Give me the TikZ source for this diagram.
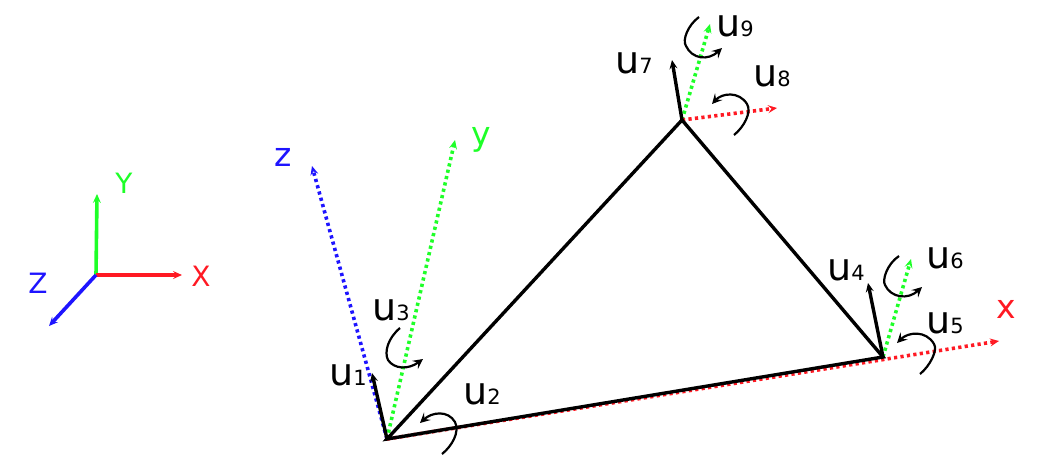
\documentclass[tikz,border=0pt]{standalone}
\usepackage{fontspec}
\setmainfont{DejaVu Sans}
\usetikzlibrary{arrows.meta}
\definecolor{cred}{RGB}{255,25,35}
\definecolor{cgreen}{RGB}{30,255,40}
\definecolor{cblue}{RGB}{30,20,255}
\newcommand{\ulab}[1]{{\fontsize{38}{38}\selectfont u}{\fontsize{21}{21}\selectfont #1}}
\tikzset{
  x=1pt,y=-1pt,
  tip/.style={-{Stealth[length=9pt,width=8pt,inset=3.5pt]}},
  solidax/.style={tip,line width=3.6pt},
  dotax/.style={tip,line width=3.6pt,dash pattern=on 3.2pt off 3.3pt},
  member/.style={line width=3.4pt,line cap=round},
  rot/.style={-{Stealth[length=10pt,width=10pt,inset=4pt]},line width=2.2pt,black},
  ulabel/.style={inner sep=0pt,anchor=base west},
  axlabel/.style={inner sep=0pt,anchor=base,font=\fontsize{28}{28}\selectfont},
  loclabel/.style={inner sep=0pt,anchor=base,font=\fontsize{33}{33}\selectfont},
}
\begin{document}
\begin{tikzpicture}
\useasboundingbox (0,0) rectangle (1049,467);
% nodes of the triangle
\coordinate (A) at (387,439);
\coordinate (B) at (883,357);
\coordinate (C) at (682,120);
\coordinate (O) at (96,275);
% tips
\coordinate (GX) at (182,275);
\coordinate (GY) at (97,194);
\coordinate (GZ) at (49,326);
\coordinate (Az) at (312,166);
\coordinate (Ay) at (455,140);
\coordinate (Ax) at (999,341);
\coordinate (U1) at (372,373);
\coordinate (U4) at (868,283);
\coordinate (U6t) at (911,259);
\coordinate (U7) at (672,60);
\coordinate (U9t) at (710,24);
\coordinate (U8t) at (777,108);
% global axes
\draw[solidax,cgreen] (O) -- (GY);
\draw[solidax,cred] (O) -- (GX);
\draw[solidax,cblue] (O) -- (GZ);
\node[axlabel,text=cgreen] (ly) at (124,193) {Y};
\node[axlabel,text=cred] (lx) at (201,286) {X};
\node[axlabel,text=cblue] (lz) at (38,293) {Z};
% local axes
\draw[dotax,cblue] (A) -- (Az);
\draw[dotax,cgreen] (A) -- (Ay);
\draw[dotax,cred] (A) -- (Ax);
\draw[dotax,cgreen] (B) -- (U6t);
\draw[dotax,cgreen] (C) -- (U9t);
\draw[dotax,cred] (C) -- (U8t);
\node[loclabel,text=cblue] (lz2) at (283,166) {z};
\node[loclabel,text=cgreen] (ly2) at (481,145) {y};
\node[loclabel,text=cred] (lx2) at (1006,318) {x};
% members
\draw[member] (A) -- (B) -- (C) -- cycle;
\draw[tip,line width=3.4pt] (A) -- (U1);
\draw[tip,line width=3.4pt] (B) -- (U4);
\draw[tip,line width=3.4pt] (C) -- (U7);
% rotations
\coordinate (r3a) at (400,328); \coordinate (r3b) at (423,359);
\draw[rot] (r3a) .. controls (388,338) and (384,352) .. (388,360) .. controls (394,369) and (408,370) .. (r3b);
\coordinate (r2a) at (442,454); \coordinate (r2b) at (420,423);
\draw[rot] (r2a) .. controls (452,446) and (460,432) .. (455,422) .. controls (448,410) and (432,412) .. (r2b);
\coordinate (r6a) at (899,256); \coordinate (r6b) at (922,287);
\draw[rot] (r6a) .. controls (887,264) and (882,280) .. (885,285) .. controls (891,298) and (908,300) .. (r6b);
\coordinate (r5a) at (920,374); \coordinate (r5b) at (897,343);
\draw[rot] (r5a) .. controls (930,366) and (938,350) .. (934,344) .. controls (926,330) and (908,332) .. (r5b);
\coordinate (r9a) at (699,17); \coordinate (r9b) at (722,48);
\draw[rot] (r9a) .. controls (688,25) and (682,40) .. (686,46) .. controls (692,59) and (708,61) .. (r9b);
\coordinate (r8a) at (734,135); \coordinate (r8b) at (712,104);
\draw[rot] (r8a) .. controls (744,127) and (752,112) .. (747,104) .. controls (739,91) and (722,93) .. (r8b);
% labels
\node[ulabel] (u1) at (329,385) {\ulab{1}};
\node[ulabel] (u2) at (463,404) {\ulab{2}};
\node[ulabel] (u3) at (372,320) {\ulab{3}};
\node[ulabel] (u4) at (827,280) {\ulab{4}};
\node[ulabel] (u5) at (926,333) {\ulab{5}};
\node[ulabel] (u6) at (926,268) {\ulab{6}};
\node[ulabel] (u7) at (615,73) {\ulab{7}};
\node[ulabel] (u8) at (753,86) {\ulab{8}};
\node[ulabel] (u9) at (716,36) {\ulab{9}};
\end{tikzpicture}
\end{document}
